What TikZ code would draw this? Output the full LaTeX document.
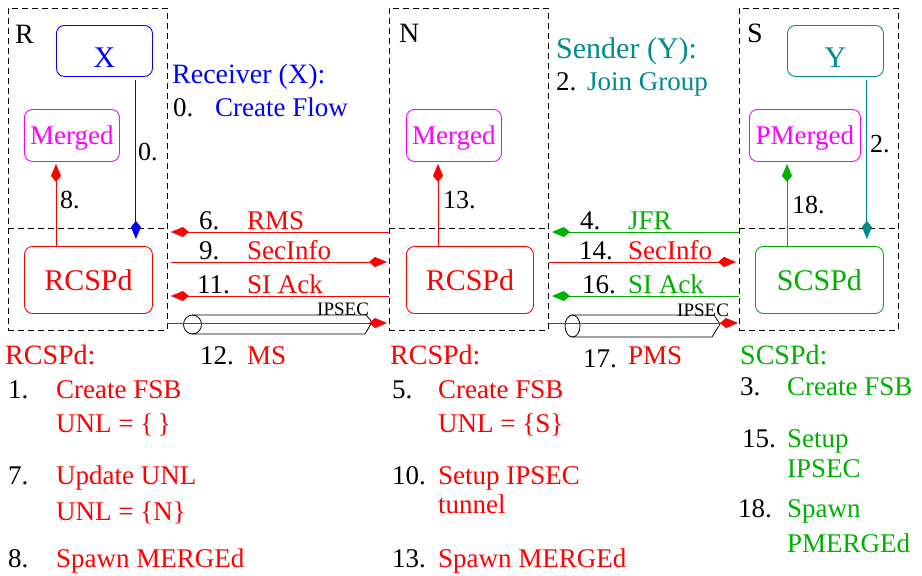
\documentclass[tikz,border=0pt]{standalone}
\usepackage{fontspec}
\setmainfont{Liberation Serif}
\usetikzlibrary{arrows.meta,calc}
\definecolor{cRed}{RGB}{255,0,0}
\definecolor{cBlue}{RGB}{0,0,255}
\definecolor{cMag}{RGB}{255,0,255}
\definecolor{cGreen}{RGB}{0,176,0}
\definecolor{cTeal}{RGB}{0,140,140}
\newcommand\fsText{\fontsize{27}{31}\selectfont}
\newcommand\fsHead{\fontsize{28}{32}\selectfont}
\newcommand\fsSend{\fontsize{30}{34}\selectfont}
\newcommand\fsNum{\fontsize{26}{30}\selectfont}
\newcommand\fsBig{\fontsize{30}{34}\selectfont}
\newcommand\fsTiny{\fontsize{19}{22}\selectfont}
\begin{document}
\begin{tikzpicture}[x=1pt,y=-1pt,
  zone/.style={draw, dash pattern=on 6pt off 4pt, line width=0.9pt,
    minimum width=159pt, minimum height=322pt, anchor=north west, inner sep=0pt},
  zoneline/.style={draw, dash pattern=on 6pt off 4pt, line width=0.9pt},
  proc/.style={draw, rounded corners=8pt, line width=0.9pt, inner sep=0pt,
    anchor=north west, text depth=0pt},
  tip/.style={-{Kite[length=18pt,width=10pt,inset=6pt]}, line width=0.9pt},
  txt/.style={anchor=base west, inner sep=0pt, font=\fsText},
  num/.style={anchor=base west, inner sep=0pt, font=\fsNum},
  tube/.style={draw, line width=0.8pt}]
\useasboundingbox (0,0) rectangle (922,576);

% dashed host zones
\node[zone] (Rbox) at (8,8) {};
\node[zone] (Nbox) at (389,8) {};
\node[zone] (Sbox) at (739,8) {};
\draw[zoneline] ($(Rbox.north west)+(0,220)$) -- ($(Rbox.north east)+(0,220)$);
\draw[zoneline] ($(Nbox.north west)+(0,220)$) -- ($(Nbox.north east)+(0,220)$);
\draw[zoneline] ($(Sbox.north west)+(0,220)$) -- ($(Sbox.north east)+(0,220)$);

\node[anchor=base west, inner sep=0pt, font=\fsHead] (Rlab) at (15,43) {R};
\node[anchor=base west, inner sep=0pt, font=\fsHead] (Nlab) at (399,42) {N};
\node[anchor=base west, inner sep=0pt, font=\fsHead] (Slab) at (747,42) {S};

% processes
\node[proc, cBlue, minimum width=96pt, minimum height=51pt, text height=33pt, font=\fsBig] (X) at (56,25) {X};
\node[proc, cMag, minimum width=95pt, minimum height=52pt, font=\fsText] (RM) at (24,109) {Merged};
\node[proc, cRed, minimum width=128pt, minimum height=67pt, font=\fsBig] (RA) at (24,246) {RCSPd};

\node[proc, cMag, minimum width=95pt, minimum height=52pt, font=\fsText] (NM) at (406,109) {Merged};
\node[proc, cRed, minimum width=127pt, minimum height=67pt, font=\fsBig] (NA) at (406,246) {RCSPd};

\node[proc, cTeal, minimum width=96pt, minimum height=51pt, text height=33pt, font=\fsBig] (SY) at (787,25) {Y};
\node[proc, cMag, minimum width=111pt, minimum height=52pt, font=\fsText] (SM) at (749,109) {PMerged};
\node[proc, cGreen, minimum width=128pt, minimum height=67pt, font=\fsBig] (SA) at (755,246) {SCSPd};

% local arrows
\draw[tip, cBlue] ([xshift=-17pt,yshift=-3pt]X.south east) -- ([xshift=-17pt,yshift=7pt]RA.north east);
\draw[tip, cRed] ([xshift=32pt]RA.north west) -- ([xshift=32pt,yshift=-2pt]RM.south west);
\draw[tip, cRed] ([xshift=32pt]NA.north west) -- ([xshift=32pt,yshift=-2pt]NM.south west);
\draw[tip, cGreen] ([xshift=32pt]SA.north west) -- ([xshift=38pt,yshift=-2pt]SM.south west);
\draw[tip, cTeal] ([xshift=-17pt,yshift=-3pt]SY.south east) -- ([xshift=-17pt,yshift=7pt]SA.north east);

\node[num] (l0) at (138,160) {0.};
\node[num] (l8) at (60,208) {8.};
\node[num] (l13) at (443,208) {13.};
\node[num] (l18) at (792,213) {18.};
\node[num] (l2) at (870,152) {2.};

% IPSEC tunnels
\draw[tube] (192,315) -- (366,315) -- (372,322) -- (365,334) -- (192,334);
\draw[tube] (192.5,324.5) ellipse [x radius=9, y radius=9.5];
\draw[tube] (572,315) -- (714,315) -- (720,324) -- (712,337) -- (572,337);
\draw[tube] (572.5,326) ellipse [x radius=7.5, y radius=11];
\node[anchor=base west, inner sep=0pt, font=\fsTiny] (ip1) at (317,315) {IPSEC};
\node[anchor=base west, inner sep=0pt, font=\fsTiny] (ip2) at (677,316) {IPSEC};

% messages R <-> N
\draw[tip, cRed] ($(Nbox.north west)+(0,224)$) -- ($(Rbox.north east)+(3,224)$);
\draw[tip, cRed] ($(Rbox.north east)+(3,254)$) -- ($(Nbox.north west)+(-2,254)$);
\draw[tip, cRed] ($(Nbox.north west)+(0,288)$) -- ($(Rbox.north east)+(3,288)$);
\draw[tip, cRed] ($(Rbox.north east)+(0,315)$) -- ($(Nbox.north west)+(-2,315)$);

% messages N <-> S
\draw[tip, cGreen] ($(Sbox.north west)+(0,224)$) -- ($(Nbox.north east)+(3,224)$);
\draw[tip, cRed] ($(Nbox.north east)+(0,254)$) -- ($(Sbox.north west)+(-3,254)$);
\draw[tip, cGreen] ($(Sbox.north west)+(0,288)$) -- ($(Nbox.north east)+(3,288)$);
\draw[tip, cRed] ($(Nbox.north east)+(0,315)$) -- ($(Sbox.north west)+(-1,315)$);

\node[txt] (m6) at (199,229) {6.};
\node[txt, cRed] (m6t) at (247,229) {RMS};
\node[txt] (m9) at (199,259) {9.};
\node[txt, cRed] (m9t) at (247,259) {SecInfo};
\node[txt] (m11) at (197,293) {11.};
\node[txt, cRed] (m11t) at (247,293) {SI Ack};
\node[txt] (m12) at (200,364) {12.};
\node[txt, cRed] (m12t) at (247,364) {MS};

\node[txt] (m4) at (580,229) {4.};
\node[txt, cGreen] (m4t) at (628,229) {JFR};
\node[txt] (m14) at (579,259) {14.};
\node[txt, cRed] (m14t) at (628,259) {SecInfo};
\node[txt] (m16) at (582,293) {16.};
\node[txt, cGreen] (m16t) at (628,293) {SI Ack};
\node[txt] (m17) at (583,367) {17.};
\node[txt, cRed] (m17t) at (628,364) {PMS};

% top notes
\node[anchor=base west, inner sep=0pt, font=\fsHead, cBlue] (recv) at (172,83) {Receiver (X):};
\node[txt] (s0) at (173,116) {0.};
\node[txt, cBlue] (s0t) at (215,116) {Create Flow};
\node[anchor=base west, inner sep=0pt, font=\fsSend, cTeal] (send) at (556,58) {Sender (Y):};
\node[txt] (s2) at (556,90) {2.};
\node[txt, cTeal] (s2t) at (587,90) {Join Group};

% step lists
\node[anchor=base west, inner sep=0pt, font=\fsHead, cRed] (hR) at (5,364) {RCSPd:};
\node[txt] (a1) at (8,398) {1.};
\node[txt, cRed] (a1t) at (56,398) {Create FSB};
\node[txt, cRed] (a1u) at (56,432) {UNL = \{\,\}};
\node[txt] (a7) at (8,484) {7.};
\node[txt, cRed] (a7t) at (56,484) {Update UNL};
\node[txt, cRed] (a7u) at (56,520) {UNL = \{N\}};
\node[txt] (a8) at (8,567) {8.};
\node[txt, cRed] (a8t) at (56,567) {Spawn MERGEd};

\node[anchor=base west, inner sep=0pt, font=\fsHead, cRed] (hN) at (390,364) {RCSPd:};
\node[txt] (b5) at (392,398) {5.};
\node[txt, cRed] (b5t) at (438,398) {Create FSB};
\node[txt, cRed] (b5u) at (438,432) {UNL = \{S\}};
\node[txt] (b10) at (392,484) {10.};
\node[txt, cRed] (b10t) at (438,484) {Setup IPSEC};
\node[txt, cRed] (b10u) at (438,513) {tunnel};
\node[txt] (b13) at (392,567) {13.};
\node[txt, cRed] (b13t) at (438,567) {Spawn MERGEd};

\node[anchor=base west, inner sep=0pt, font=\fsHead, cGreen] (hS) at (740,364) {SCSPd:};
\node[txt] (c3) at (740,395) {3.};
\node[txt, cGreen] (c3t) at (787,395) {Create FSB};
\node[txt] (c15) at (742,447) {15.};
\node[txt, cGreen] (c15t) at (787,447) {Setup};
\node[txt, cGreen] (c15u) at (787,477) {IPSEC};
\node[txt] (c18) at (738,517) {18.};
\node[txt, cGreen] (c18t) at (787,517) {Spawn};
\node[txt, cGreen] (c18u) at (787,552) {PMERGEd};
\end{tikzpicture}
\end{document}
